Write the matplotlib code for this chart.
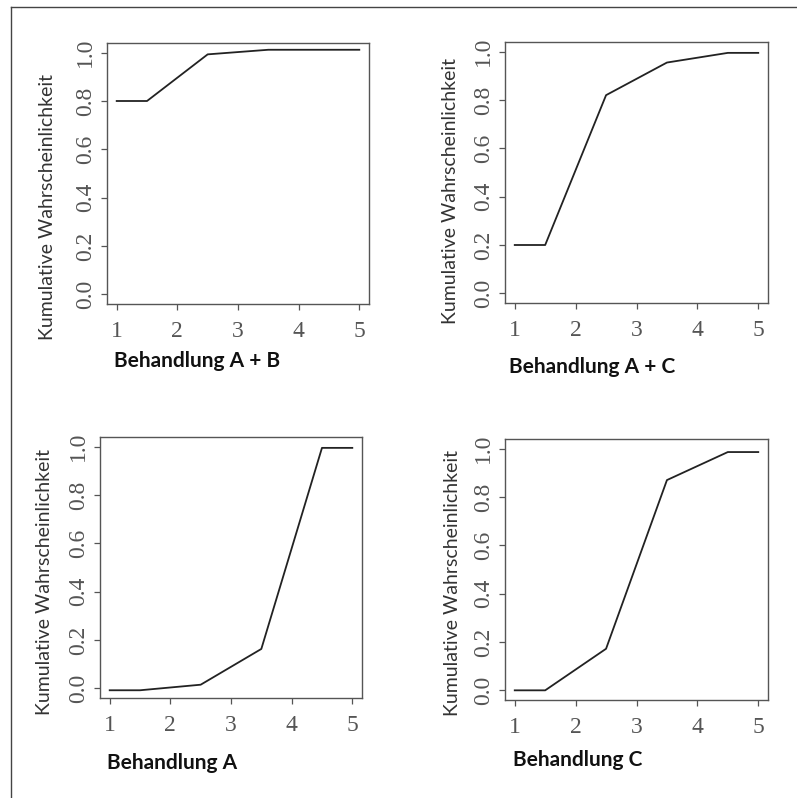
import matplotlib.pyplot as plt
from matplotlib.lines import Line2D

# stufen der kumulativen Verteilung
x_vals = [1, 1.5, 2.5, 3.5, 4.5, 5]
cum_ab = [0.80, 0.80, 0.993, 1.012, 1.012, 1.012]
cum_ac = [0.20, 0.20, 0.82, 0.955, 0.995, 0.995]
cum_a = [-0.008, -0.008, 0.015, 0.163, 0.995, 0.995]
cum_c = [0.0, 0.0, 0.172, 0.87, 0.986, 0.986]

titles = ['Behandlung A + B', 'Behandlung A + C', 'Behandlung A', 'Behandlung C']
x_ticks = [1, 2, 3, 4, 5]
y_ticks = [0.0, 0.2, 0.4, 0.6, 0.8, 1.0]
y_label = 'Kumulative Wahrscheinlichkeit'

W, H = 797, 798


def px_rect(x0, y0, x1, y1):
    '''Pixel box (top-left origin) -> figure fraction rect.'''
    return [x0 / W, 1 - y1 / H, (x1 - x0) / W, (y1 - y0) / H]


def draw_panel(fig, rect, ys, title, ylab_pos, title_pos):
    ax = fig.add_axes(rect)
    ax.plot(x_vals, ys, color='#222222', lw=1.3)
    ax.set_xlim(0.84, 5.16)
    ax.set_ylim(-0.04, 1.04)
    ax.set_xticks(x_ticks)
    ax.set_xticklabels([str(t) for t in x_ticks])
    ax.set_yticks(y_ticks)
    ax.set_yticklabels(['%.1f' % t for t in y_ticks], rotation=90, va='center')
    for s in ['top', 'right', 'bottom', 'left']:
        ax.spines[s].set_color('#555555')
        ax.spines[s].set_linewidth(1.0)
    ax.tick_params(direction='out', length=4, width=0.9, color='#555555',
                   labelcolor='#555555', labelsize=17)
    ax.tick_params(axis='x', pad=8)
    ax.tick_params(axis='y', pad=4)
    for lab in ax.get_xticklabels() + ax.get_yticklabels():
        lab.set_family('Liberation Serif')
    fig.text(ylab_pos[0] / W, 1 - ylab_pos[1] / H, y_label, rotation=90,
             ha='center', va='center', fontsize=14, family='Lato', color='#333333')
    fig.text(title_pos[0] / W, 1 - title_pos[1] / H, title, ha='left', va='center',
             fontsize=15, family='Lato', weight='bold', color='#111111')
    return ax


fig = plt.figure(figsize=(W / 100, H / 100), dpi=100)

draw_panel(fig, px_rect(107, 43, 369, 304), cum_ab, titles[0], (48, 207), (114, 361))
draw_panel(fig, px_rect(505, 42, 768, 303), cum_ac, titles[1], (450, 191), (509, 367))
draw_panel(fig, px_rect(100, 437, 362, 698), cum_a, titles[2], (45, 582), (107, 763))
draw_panel(fig, px_rect(505, 439, 768, 700), cum_c, titles[3], (453, 583), (513, 760))

# rahmen oben und links
fig.add_artist(Line2D([10.5 / W, 1.0], [1 - 6.5 / H, 1 - 6.5 / H], color='#444444', lw=1.0))
fig.add_artist(Line2D([10.5 / W, 10.5 / W], [1 - 6.5 / H, 0.0], color='#444444', lw=1.0))

fig.savefig('out.png', dpi=100)
